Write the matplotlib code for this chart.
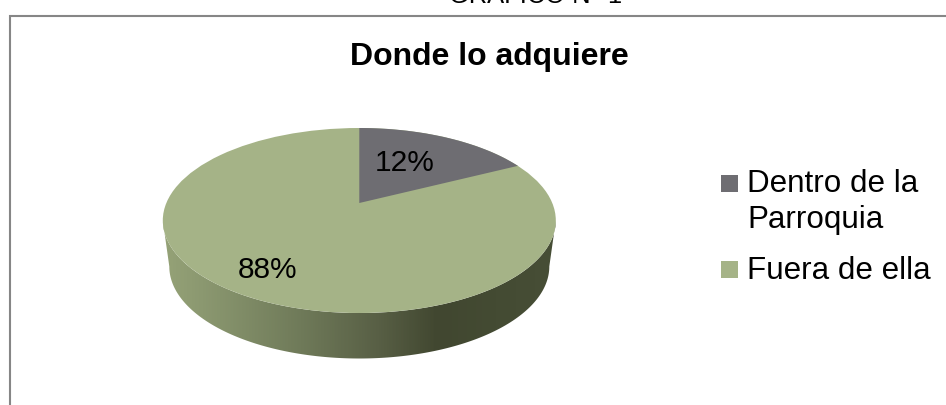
import numpy as np
import matplotlib
matplotlib.use("Agg")
import matplotlib.pyplot as plt
from matplotlib.patches import Ellipse, PathPatch, Polygon, Rectangle
from matplotlib.path import Path
from matplotlib.colors import LinearSegmentedColormap

plt.rcParams['font.family'] = ['Liberation Sans', 'DejaVu Sans']

# Chart content
heading = "GRAFICO N° 1"
title = "Donde lo adquiere"
categories = ["Dentro de la\nParroquia", "Fuera de ella"]
shares = [12, 88]
share_labels = ["12%", "88%"]
slice_colors = ["#6E6D72", "#A5B387"]

W, H = 946, 405
fig = plt.figure(figsize=(W / 100, H / 100), dpi=100, facecolor="white")
ax = fig.add_axes([0, 0, 1, 1])
ax.set_xlim(0, W)
ax.set_ylim(H, 0)
ax.axis("off")

# Pie geometry in canvas pixels
cx, cy = 359.3, 220.5      # centre of the top ellipse
rx, ry = 196.5, 92.5
apex_x, apex_y = 359.3, 203.0   # visual centre of the tilted disc
depth = 46.0
rx_low = 190.0
squash = 0.22              # foreshortening of slice directions


def rim_point(fraction):
    """Point on the rim reached by a cumulative pie fraction, clockwise from 12 o'clock."""
    a = 2 * np.pi * fraction
    if abs(np.sin(a)) < 1e-9:
        return (apex_x, cy - ry if np.cos(a) > 0 else cy + ry)
    dx, dy = np.sin(a), -np.cos(a) * squash
    ox, oy = (apex_x - cx) / rx, (apex_y - cy) / ry
    ux, uy = dx / rx, dy / ry
    A = ux * ux + uy * uy
    B = 2 * (ox * ux + oy * uy)
    C = ox * ox + oy * oy - 1
    t = (-B + np.sqrt(B * B - 4 * A * C)) / (2 * A)
    return apex_x + t * dx, apex_y + t * dy


# Side wall: lower half of the top rim joined to the lower half of the base rim
th = np.linspace(0, np.pi, 200)
top_x = cx + rx * np.cos(th)
top_y = cy + ry * np.sin(th)
low_x = cx + rx_low * np.cos(th[::-1])
low_y = cy + depth + (ry - 0.5) * np.sin(th[::-1])
wall_xy = np.column_stack([np.r_[top_x, low_x], np.r_[top_y, low_y]])
wall = PathPatch(Path(np.vstack([wall_xy, wall_xy[0]]), closed=True),
                 facecolor="none", edgecolor="none")
ax.add_patch(wall)

# Horizontal shading along the wall, darkest just right of centre
wall_cmap = LinearSegmentedColormap.from_list("wall", [
    (0.0, "#95A277"), (0.10, "#8B9870"), (0.35, "#6F7A59"),
    (0.55, "#585F45"), (0.70, "#414730"), (0.85, "#444B33"), (1.0, "#474E36"),
])
shade = ax.imshow(np.linspace(0, 1, 400)[None, :], cmap=wall_cmap,
                  extent=[cx - rx, cx + rx, cy + depth + ry, cy], aspect="auto", zorder=2)
shade.set_clip_path(wall)
ax.set_xlim(0, W)
ax.set_ylim(H, 0)

# Top face: whole disc, then the smaller slice over it
ax.add_patch(Ellipse((cx, cy), 2 * rx, 2 * ry, facecolor=slice_colors[1],
                     edgecolor="none", zorder=3))
end = rim_point(shares[0] / sum(shares))
end_angle = np.arctan2((end[1] - cy) / ry, (end[0] - cx) / rx)
arc = np.linspace(-np.pi / 2, end_angle, 80)
ax.add_patch(Polygon(
    np.vstack([[apex_x, apex_y],
               np.column_stack([cx + rx * np.cos(arc), cy + ry * np.sin(arc)])]),
    closed=True, facecolor=slice_colors[0], edgecolor="none", zorder=4))

# Slice labels
ax.text(404.5, 171.3, share_labels[0], fontsize=21.5, ha="center", va="baseline", zorder=5)
ax.text(267.5, 277.7, share_labels[1], fontsize=21.5, ha="center", va="baseline", zorder=5)

# Chart frame, running off the right and bottom edges
ax.plot([10, 10, W], [H, 15.5, 15.5], color="#868686", lw=1.5, solid_joinstyle="miter", zorder=1)

# Headings
ax.text(489, 65, title, fontsize=23, fontweight="bold", ha="center", va="baseline")
ax.text(536, 3, heading, fontsize=18.4, ha="center", va="baseline", clip_on=True)

# Legend
for y0, color in zip([175, 261], slice_colors):
    ax.add_patch(Rectangle((721, y0), 17, 17, facecolor=color, edgecolor="none"))
ax.text(747, 192.3, "Dentro de la", fontsize=22.6, va="baseline")
ax.text(747, 228, "Parroquia", fontsize=22.6, va="baseline")
ax.text(747, 279.3, categories[1], fontsize=22.6, va="baseline")

fig.savefig("out.png", dpi=100, facecolor="white")
